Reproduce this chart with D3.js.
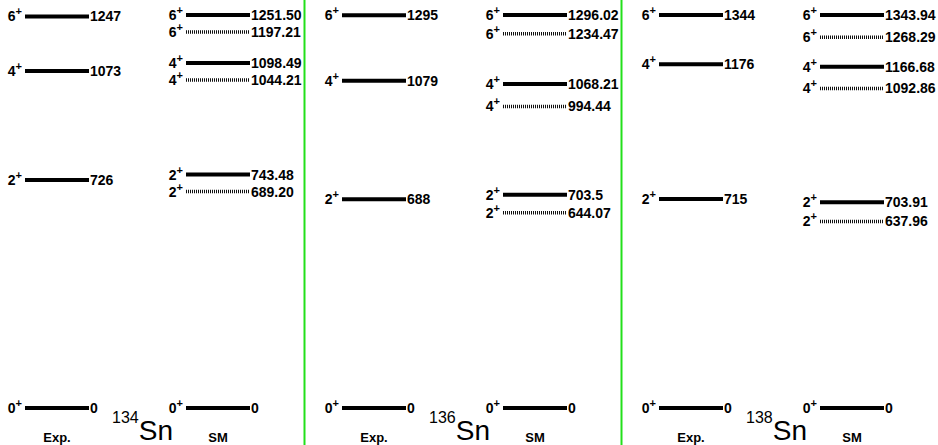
<!DOCTYPE html>
<html>
<head>
<meta charset="utf-8">
<script src="https://cdn.jsdelivr.net/npm/d3@7"></script>
<style>
  body { margin: 0; background: #fff; }
  text { font-family: "Liberation Sans", Arial, sans-serif; }
</style>
</head>
<body>
<svg width="938" height="445"></svg>
<script>
// isotopes, one panel each
const isotopes = ["134", "136", "138"];
const columns = ["Exp.", "SM"];

// experimental levels (keV)
const expSpins = [0, 2, 4, 6];
const expEnergies = [
  ["0", "726", "1073", "1247"],
  ["0", "688", "1079", "1295"],
  ["0", "715", "1176", "1344"]
];

// shell model, solid lines
const smSpins = [0, 2, 4, 6];
const smEnergies = [
  ["0", "743.48", "1098.49", "1251.50"],
  ["0", "703.5", "1068.21", "1296.02"],
  ["0", "703.91", "1166.68", "1343.94"]
];

// shell model, dashed lines
const smAltSpins = [2, 4, 6];
const smAltEnergies = [
  ["689.20", "1044.21", "1197.21"],
  ["644.07", "994.44", "1234.47"],
  ["637.96", "1092.86", "1268.29"]
];

let svg = d3.select("svg"),
    width = +svg.attr("width"),
    height = +svg.attr("height");

let panelX = d3.scaleBand()
    .domain(isotopes)
    .range([0, 951]);

let colX = d3.scalePoint()
    .domain(columns)
    .range([25, 186]);

const lineW = 64;

// separators
svg.selectAll(".sep")
  .data(isotopes.slice(1))
  .enter().append("line")
    .attr("class", "sep")
    .attr("x1", d => panelX(d) - 12.5)
    .attr("x2", d => panelX(d) - 12.5)
    .attr("y1", 0)
    .attr("y2", height)
    .attr("stroke", "#22e01a")
    .attr("stroke-width", 2);

isotopes.forEach(function(iso, i) {
  let g = svg.append("g")
      .attr("transform", "translate(" + panelX(iso) + ",0)");

  let levels = [];
  expEnergies[i].forEach((e, j) => levels.push({col: "Exp.", spin: expSpins[j], label: e, dashed: false}));
  smEnergies[i].forEach((e, j) => levels.push({col: "SM", spin: smSpins[j], label: e, dashed: false}));
  smAltEnergies[i].forEach((e, j) => levels.push({col: "SM", spin: smAltSpins[j], label: e, dashed: true}));

  let y = d3.scaleLinear()
      .domain([0, d3.max(levels, d => +d.label)])
      .range([408, 15]);

  let lev = g.selectAll(".level")
    .data(levels)
    .enter().append("g")
      .attr("class", "level")
      .attr("transform", d => "translate(" + colX(d.col) + "," + y(+d.label) + ")");

  lev.append("line")
      .attr("x1", 0)
      .attr("x2", lineW)
      .attr("stroke", d => d.dashed ? "#111" : "#000")
      .attr("stroke-width", d => d.dashed ? 3.5 : 4)
      .attr("stroke-dasharray", d => d.dashed ? "1,1" : null);

  lev.append("text")
      .attr("x", lineW + 1)
      .attr("y", 5)
      .attr("font-size", 14)
      .attr("font-weight", "bold")
      .text(d => d.label);

  let spin = lev.append("text")
      .attr("x", -3)
      .attr("y", 5)
      .attr("text-anchor", "end")
      .attr("font-size", 14)
      .attr("font-weight", "bold");
  spin.append("tspan").text(d => d.spin);
  spin.append("tspan")
      .attr("dy", -6)
      .attr("font-size", 11)
      .text("+");

  // column titles
  g.selectAll(".col")
    .data(columns)
    .enter().append("text")
      .attr("class", "col")
      .attr("x", d => colX(d) + lineW / 2)
      .attr("y", 442)
      .attr("text-anchor", "middle")
      .attr("font-size", 13)
      .attr("font-weight", "bold")
      .text(d => d);

  // isotope name
  let name = g.append("text")
      .attr("x", 112)
      .attr("y", 440);
  name.append("tspan")
      .attr("font-size", 16)
      .attr("dy", -17)
      .text(iso);
  name.append("tspan")
      .attr("font-size", 28)
      .attr("dy", 17)
      .text("Sn");
});
</script>
</body>
</html>
